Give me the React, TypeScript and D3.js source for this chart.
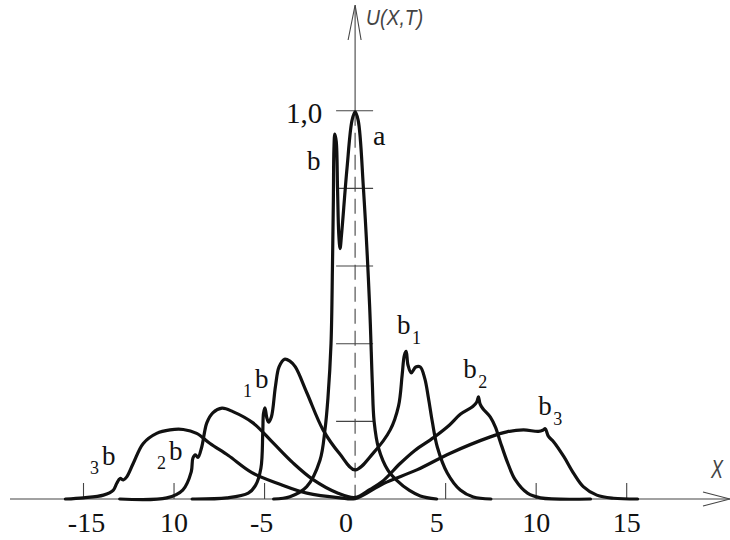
import * as d3 from "d3";

// wave profiles U(X,T) at four moments as [x, u]
const curveT0: [number, number][] = [
  [-4.5, 0], [-3.6, 0.006], [-2.67, 0.032], [-1.94, 0.1], [-1.66, 0.18], [-1.5, 0.26],
  [-1.33, 0.4], [-1.25, 0.6], [-1.2, 0.77], [-1.17, 0.9], [-1.12, 0.94], [-1.04, 0.92],
  [-0.97, 0.8], [-0.9, 0.68], [-0.83, 0.645], [-0.75, 0.68], [-0.45, 0.85], [-0.17, 0.975],
  [0, 0.997], [0.17, 0.975], [0.46, 0.8], [0.8, 0.5], [0.95, 0.3], [1.05, 0.2], [1.3, 0.13],
  [1.8, 0.075], [2.3, 0.048], [3.0, 0.022], [3.6, 0.008], [4.5, 0],
];

const curveT1: [number, number][] = [
  [-9, 0], [-7.08, 0.003], [-5.9, 0.015], [-5.5, 0.035], [-5.2, 0.08], [-5.1, 0.17],
  [-5.06, 0.22], [-4.98, 0.235], [-4.88, 0.21], [-4.78, 0.198], [-4.62, 0.212], [-4.4, 0.29],
  [-4.2, 0.34], [-3.9, 0.36], [-3.6, 0.355], [-3.3, 0.34], [-2.66, 0.273], [-1.77, 0.178],
  [-0.83, 0.115], [0, 0.075], [1.0, 0.118], [1.94, 0.178], [2.4, 0.24], [2.6, 0.32],
  [2.72, 0.37], [2.82, 0.38], [2.92, 0.345], [3.1, 0.325], [3.35, 0.34], [3.6, 0.34],
  [3.85, 0.31], [4.05, 0.26], [4.26, 0.2], [4.54, 0.134], [5.09, 0.067], [5.81, 0.023],
  [6.53, 0.005], [7.5, 0],
];

const curveT2: [number, number][] = [
  [-13, 0], [-10.4, 0.003], [-9.52, 0.023], [-9.05, 0.07], [-8.96, 0.105], [-8.82, 0.114],
  [-8.68, 0.107], [-8.47, 0.134], [-8.19, 0.196], [-7.86, 0.222], [-7.35, 0.234],
  [-6.75, 0.225], [-5.64, 0.196], [-4.54, 0.145], [-3.43, 0.093], [-2.32, 0.05],
  [-0.94, 0.015], [0, 0.004], [0.83, 0.025], [1.5, 0.045], [2.5, 0.092], [3.3, 0.125],
  [4.33, 0.158], [5.2, 0.19], [5.81, 0.218], [6.5, 0.238], [6.72, 0.25], [6.81, 0.263],
  [6.9, 0.245], [7.05, 0.233], [7.47, 0.211], [7.75, 0.185], [8.02, 0.147], [8.41, 0.095],
  [8.85, 0.049], [9.52, 0.015], [10.24, 0.003], [13, 0],
];

const curveT3: [number, number][] = [
  [-16, 0], [-15.0, 0.003], [-13.9, 0.01], [-13.35, 0.023], [-13.17, 0.04], [-12.98, 0.053],
  [-12.8, 0.049], [-12.61, 0.057], [-12.25, 0.092], [-11.7, 0.143], [-10.96, 0.169],
  [-10.22, 0.178], [-9.49, 0.179], [-8.75, 0.169], [-8.01, 0.143], [-7.0, 0.112],
  [-5.7, 0.068], [-4.15, 0.038], [-2.66, 0.015], [-0.83, 0.003], [0, 0.001], [1.57, 0.04],
  [3.41, 0.075], [5.26, 0.118], [7.47, 0.16], [8.38, 0.173], [9.3, 0.178], [10.13, 0.174],
  [10.4, 0.178], [10.5, 0.181], [10.68, 0.161], [10.97, 0.147], [11.53, 0.109],
  [12.07, 0.066], [12.6, 0.032], [13.35, 0.01], [14.27, 0.002], [15.6, 0],
];

const curves = [curveT0, curveT1, curveT2, curveT3];

const xTicks = [-15, -10, -5, 0, 5, 10, 15];
const xTickLabels = ["-15", "10", "-5", "0", "5", "10", "15"];
const yTicks = [0.2, 0.4, 0.6, 0.8, 1.0];

// text marks: main letter, optional subscript (before or after), anchor in data units
const marks = [
  { main: "a", sub: "", before: false, x: 0.99, u: 0.912 },
  { main: "b", sub: "", before: false, x: -2.65, u: 0.847 },
  { main: "b", sub: "1", before: false, x: 2.32, u: 0.425 },
  { main: "b", sub: "2", before: false, x: 5.97, u: 0.312 },
  { main: "b", sub: "3", before: false, x: 10.11, u: 0.216 },
  { main: "b", sub: "1", before: true, x: -6.19, u: 0.285 },
  { main: "b", sub: "2", before: true, x: -10.94, u: 0.1 },
  { main: "b", sub: "3", before: true, x: -14.64, u: 0.087 },
];

const W = 730;
const H = 540;

export default function App() {
  const x = d3.scaleLinear().domain([-15, 15]).range([83.5, 626.7]);
  const y = d3.scaleLinear().domain([0, 1]).range([499, 110.7]);

  const line = d3
    .line<[number, number]>()
    .x((d) => x(d[0]))
    .y((d) => y(d[1]))
    .curve(d3.curveCatmullRom.alpha(0.5));

  const x0 = x(0);
  const serif = "'Times New Roman', 'Liberation Serif', serif";
  const gost = "'Liberation Sans Narrow', 'Liberation Sans', Arial, sans-serif";

  // small nudges so the labels sit where the drawing has them
  const labelNudge = (t: number) => (t === 0 || t === 5 ? -9 : t === -15 ? 3 : t === -5 ? -3 : 0);

  return (
    <svg
      width={W}
      height={H}
      style={{ position: "absolute", left: 0, top: 0, background: "#fff" }}
    >
      {/* x axis with open arrow */}
      <g stroke="#444" strokeWidth={1.1} fill="none">
        <line x1={10} x2={730} y1={y(0)} y2={y(0)} />
        <polyline points={`703,${y(0) - 7} 730,${y(0)} 703,${y(0) + 7}`} />
        {xTicks
          .filter((t) => t !== 0)
          .map((t) => (
            <line key={t} x1={x(t)} x2={x(t)} y1={y(0)} y2={y(0) - 16} />
          ))}
      </g>

      {/* y axis: solid above 1,0, dashed below */}
      <g stroke="#444" strokeWidth={1.1} fill="none">
        <line x1={x0} x2={x0} y1={5} y2={y(1)} />
        <line x1={x0} x2={x0} y1={y(1)} y2={y(0)} strokeDasharray="15,7" />
        <polyline points={`${x0 - 7},40 ${x0},5 ${x0 + 6},40`} />
        {yTicks.map((t) => (
          <line key={t} x1={x0 - 19} x2={x0 + 18} y1={y(t)} y2={y(t)} />
        ))}
      </g>

      {/* profiles */}
      <g fill="none" stroke="#111" strokeWidth={3.2} strokeLinejoin="round" strokeLinecap="round">
        {curves.map((c, i) => (
          <path key={i} d={line(c) ?? ""} />
        ))}
      </g>

      {/* tick labels */}
      <g fontFamily={serif} fill="#111" textAnchor="middle">
        {xTicks.map((t, i) => (
          <text key={t} x={x(t) + labelNudge(t)} y={532} fontSize={28}>
            {xTickLabels[i]}
          </text>
        ))}
        <text x={x(-1.82)} y={y(0.968)} fontSize={29} textAnchor="end">1,0</text>
      </g>

      {/* curve marks */}
      <g fontFamily={serif} fill="#111">
        {marks.map((m, i) => {
          const px = x(m.x);
          const py = y(m.u);
          if (!m.sub) {
            return (
              <text key={i} x={px} y={py} fontSize={m.main === "a" ? 28 : 27}>
                {m.main}
              </text>
            );
          }
          return m.before ? (
            <g key={i}>
              <text x={px} y={py + 9} fontSize={18}>{m.sub}</text>
              <text x={px + 12} y={py} fontSize={27}>{m.main}</text>
            </g>
          ) : (
            <g key={i}>
              <text x={px} y={py} fontSize={27}>{m.main}</text>
              <text x={px + 15} y={py + 10} fontSize={18}>{m.sub}</text>
            </g>
          );
        })}
      </g>

      {/* axis names */}
      <g fontFamily={gost} fontStyle="italic" fill="#444">
        <text x={x0 + 11} y={25} fontSize={22} textLength={57} lengthAdjust="spacingAndGlyphs">
          U(X,T)
        </text>
        <text x={711} y={478} fontSize={26} textLength={12} lengthAdjust="spacingAndGlyphs">
          X
        </text>
      </g>
    </svg>
  );
}
